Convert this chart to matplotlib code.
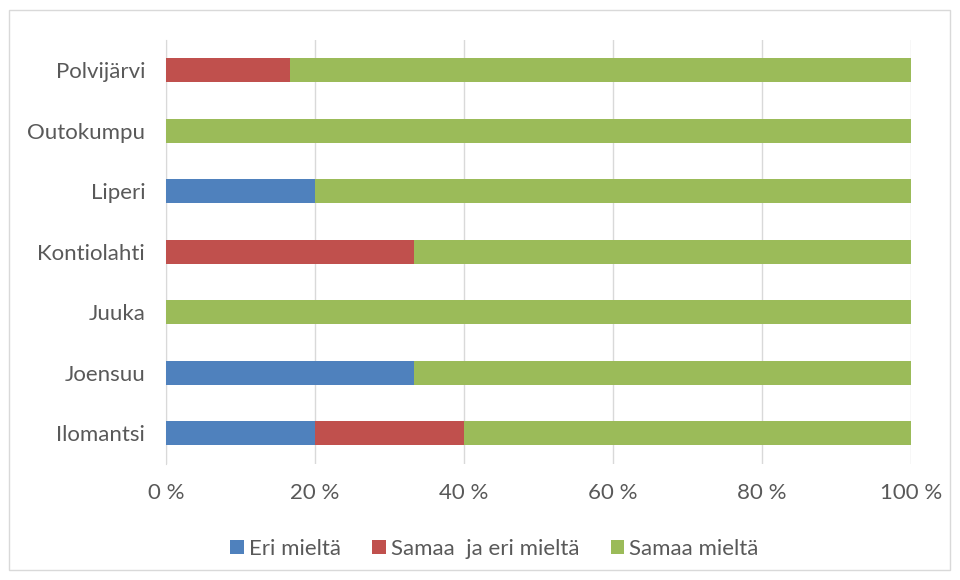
import matplotlib
matplotlib.use("Agg")
import matplotlib.pyplot as plt
from matplotlib.patches import Rectangle
import numpy as np

plt.rcParams['font.family'] = ['Lato', 'DejaVu Sans']

categories = ["Ilomantsi", "Joensuu", "Juuka", "Kontiolahti", "Liperi", "Outokumpu", "Polvijärvi"]
eri = [20, 33.3, 0, 0, 20, 0, 0]
samaa_ja_eri = [20, 0, 0, 33.3, 0, 0, 16.7]
samaa = [60, 66.7, 100, 66.7, 80, 100, 83.3]
series_names = ["Eri mieltä", "Samaa  ja eri mieltä", "Samaa mieltä"]
colors = ["#4F81BD", "#C0504D", "#9BBB59"]
xticks = [0, 20, 40, 60, 80, 100]
xtick_labels = ["0 %", "20 %", "40 %", "60 %", "80 %", "100 %"]

fig = plt.figure(figsize=(9.6, 5.8), dpi=100)
fig.patches.append(Rectangle((9/960, 10/580), 941/960, 560/580, transform=fig.transFigure,
                             fill=False, edgecolor="#D9D9D9", linewidth=1))
ax = fig.add_axes([166/960, 1 - 463.5/580, 745/960, 423.5/580])

y = np.arange(len(categories))
left = np.zeros(len(categories))
for vals, name, c in zip([eri, samaa_ja_eri, samaa], series_names, colors):
    ax.barh(y, vals, left=left, height=0.4, color=c, label=name, zorder=3)
    left = left + np.array(vals)

ax.set_xlim(0, 100)
ax.set_ylim(-0.5, len(categories) - 0.5)
ax.set_xticks(xticks)
ax.set_xticklabels(xtick_labels)
ax.set_yticks(y)
ax.set_yticklabels(categories)
ax.grid(axis='x', color="#D9D9D9", linewidth=1, zorder=0)
for s in ['top', 'right', 'bottom']:
    ax.spines[s].set_visible(False)
ax.spines['left'].set_color("#D9D9D9")
ax.spines['left'].set_zorder(1)
ax.tick_params(axis='both', length=0, labelsize=16, colors="#595959")
ax.tick_params(axis='x', pad=14)
ax.tick_params(axis='y', pad=15)

ax.legend(loc='upper center', bbox_to_anchor=(0.5 - 44/745, -0.13), ncol=3, frameon=False,
          fontsize=16, labelcolor="#595959", handlelength=0.62, handleheight=0.62,
          handletextpad=0.22, columnspacing=1.4)

fig.savefig("out.png", dpi=100)
